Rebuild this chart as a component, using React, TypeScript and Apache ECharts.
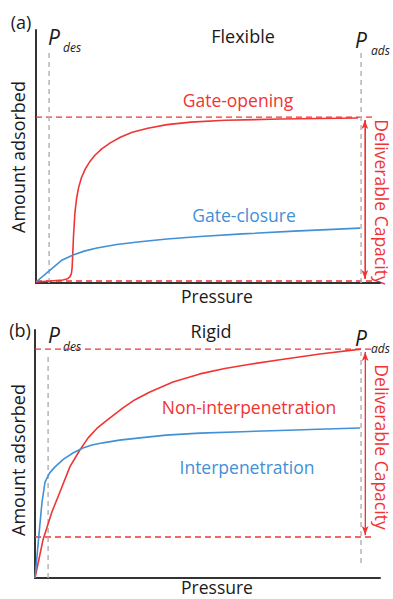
import React, { useEffect, useRef } from 'react';
import * as echarts from 'echarts';

const RED = '#f03434';
const BLUE = '#4290d6';
const GRAY = '#b5b5b5';
const AXIS = '#333333';
const FONT = 'Open Sans';

// Panel (a) – Flexible
const gateOpening: number[][] = [
  [0, 0.4], [4.1, 0.8], [7.8, 1.2], [9.2, 1.7], [9.9, 2.5], [10.3, 3.8], [10.5, 6.0], [10.7, 12.0],
  [10.9, 18.5], [11.3, 27.5], [11.8, 33.5], [12.4, 37.8], [13.2, 41.6], [14.3, 45.0], [15.6, 47.9],
  [17.2, 50.6], [19.2, 53.1], [21.6, 55.4], [24.5, 57.6], [28.0, 59.6], [32.5, 61.2], [38.1, 62.6],
  [45.0, 63.6], [55.0, 64.3], [70.9, 64.8], [93.6, 65.2],
];
const gateClosure: number[][] = [
  [0, 0.4], [4.1, 5.1], [7.6, 9.1], [10.8, 11.1], [14.0, 12.6], [17.7, 13.8], [23.5, 15.2],
  [30.2, 16.3], [38.1, 17.4], [47.7, 18.4], [60.0, 19.4], [75.0, 20.5], [94.2, 21.7],
];
const presA = { des: 3.8, ads: 94.5, desTop: 91.3, adsTop: 91, adsBottom: 0 };
const capA = { top: 65.6, bottom: 0.8, end: 98.5, arrowX: 95.6, arrowTop: 64.4, arrowBottom: 1.6 };

// Panel (b) – Rigid
const nonInterpenetration: number[][] = [
  [0, 0], [2.3, 15.3], [4.9, 26.6], [7.8, 36.7], [10.1, 44.8], [13.0, 51.6], [15.4, 56.5],
  [18.0, 60.4], [20.9, 63.7], [25.5, 68.6], [29.0, 71.9], [33.3, 75.0], [40.0, 79.0], [47.8, 82.3],
  [55.0, 84.5], [62.3, 86.2], [71.0, 88.0], [82.6, 90.3], [94.5, 92.3],
];
const interpenetration: number[][] = [
  [0, 0], [1.0, 15.3], [2.0, 30.2], [2.9, 38.7], [4.2, 42.3], [5.8, 44.8], [8.2, 47.8], [11.0, 50.4],
  [13.9, 52.4], [16.5, 53.6], [19.7, 54.5], [24.5, 55.6], [30.4, 56.5], [38.0, 57.6], [47.8, 58.4],
  [60.0, 59.0], [71.0, 59.5], [82.0, 60.0], [94.2, 60.5],
];
const presB = { des: 3.8, ads: 94.5, desTop: 90.7, adsTop: 91.1, adsBottom: 6.0 };
const capB = { top: 92.3, bottom: 16.5, end: 98.5, arrowX: 95.7, arrowTop: 91.1, arrowBottom: 17.3 };

const panelTags = ['(a)', '(b)'];
const panelTitles = ['Flexible', 'Rigid'];
const curveLabelsA = ['Gate-opening', 'Gate-closure'];
const curveLabelsB = ['Non-interpenetration', 'Interpenetration'];
const yName = 'Amount adsorbed';
const xName = 'Pressure';
const capName = 'Deliverable Capacity';

function curve(data: number[][], color: string, idx: number) {
  return {
    type: 'line', xAxisIndex: idx, yAxisIndex: idx, data, symbol: 'none', smooth: false,
    lineStyle: { color, width: 1.6 }, silent: true, z: 3,
  };
}
function dashed(data: number[][], color: string, idx: number, dash: number[], width = 1.3) {
  return {
    type: 'line', xAxisIndex: idx, yAxisIndex: idx, data, symbol: 'none',
    lineStyle: { color, width, type: dash }, silent: true, z: 2,
  };
}
function arrow(x: number, top: number, bottom: number, idx: number) {
  return {
    type: 'line', xAxisIndex: idx, yAxisIndex: idx, data: [[x, top], [x, bottom]], symbol: 'none',
    lineStyle: { color: RED, width: 1 }, silent: true,
    markLine: {
      silent: true, symbol: ['arrow', 'arrow'], symbolSize: [5, 9], label: { show: false },
      lineStyle: { color: RED, width: 1, type: 'solid' },
      data: [[{ coord: [x, top] }, { coord: [x, bottom] }]],
    },
  };
}
function panelSeries(idx: number, c1: number[][], c2: number[][], pres: any, cap: any) {
  return [
    dashed([[0, cap.top], [cap.end, cap.top]], RED, idx, [6, 4]),
    dashed([[0, cap.bottom], [cap.end, cap.bottom]], RED, idx, [6, 4], 1.5),
    dashed([[pres.des, 0], [pres.des, pres.desTop]], GRAY, idx, [5, 4], 1.5),
    dashed([[pres.ads, pres.adsBottom], [pres.ads, pres.adsTop]], GRAY, idx, [5, 4], 1.5),
    arrow(cap.arrowX, cap.arrowTop, cap.arrowBottom, idx),
    curve(c1, RED, idx),
    curve(c2, BLUE, idx),
  ];
}

function txt(text: string, x: number, y: number, opts: any = {}) {
  return {
    type: 'text', x, y, rotation: opts.rotation || 0, silent: true,
    style: {
      text, fill: opts.color || '#1a1a1a', fontSize: opts.size || 17.5, fontFamily: FONT,
      fontStyle: opts.italic ? 'italic' : 'normal', align: opts.align || 'center', verticalAlign: 'middle',
    },
  };
}

export default function App() {
  const ref = useRef<HTMLDivElement>(null);
  useEffect(() => {
    document.body.style.margin = '0';
    const chart = echarts.init(ref.current!, undefined, { renderer: 'svg' });
    const axisCommon = {
      type: 'value', min: 0, max: 100,
      axisLine: { show: true, onZero: false, lineStyle: { color: AXIS, width: 2 } },
      axisTick: { show: false }, axisLabel: { show: false }, splitLine: { show: false },
    };
    chart.setOption({
      animation: false,
      backgroundColor: '#ffffff',
      grid: [
        { left: 36, top: 30, width: 344, height: 253 },
        { left: 35, top: 330, width: 345, height: 248 },
      ],
      xAxis: [{ ...axisCommon, gridIndex: 0 }, { ...axisCommon, gridIndex: 1 }],
      yAxis: [{ ...axisCommon, gridIndex: 0 }, { ...axisCommon, gridIndex: 1 }],
      series: [
        ...panelSeries(0, gateOpening, gateClosure, presA, capA),
        ...panelSeries(1, nonInterpenetration, interpenetration, presB, capB),
      ],
      graphic: [
        txt(panelTags[0], 21, 22, { size: 18 }),
        txt(panelTags[1], 20, 330, { size: 18 }),
        txt(panelTitles[0], 243, 36, { size: 18 }),
        txt(panelTitles[1], 211, 331, { size: 18 }),
        txt('P', 48, 37, { size: 21, italic: true, align: 'left' }),
        txt('des', 63, 47, { size: 12, italic: true, align: 'left' }),
        txt('P', 355, 40, { size: 21, italic: true, align: 'left' }),
        txt('ads', 371, 50, { size: 12, italic: true, align: 'left' }),
        txt('P', 48, 335, { size: 21, italic: true, align: 'left' }),
        txt('des', 63, 346, { size: 12, italic: true, align: 'left' }),
        txt('P', 355, 338, { size: 21, italic: true, align: 'left' }),
        txt('ads', 371, 348, { size: 12, italic: true, align: 'left' }),
        txt(curveLabelsA[0], 238, 100, { color: RED }),
        txt(curveLabelsA[1], 244, 215, { color: BLUE }),
        txt(curveLabelsB[0], 249, 407, { color: RED }),
        txt(curveLabelsB[1], 247, 467, { color: BLUE }),
        txt(yName, 18, 157, { rotation: Math.PI / 2, size: 18 }),
        txt(yName, 18, 460, { rotation: Math.PI / 2, size: 18 }),
        txt(xName, 217, 296),
        txt(xName, 217, 587),
        txt(capName, 382, 202, { color: RED, rotation: -Math.PI / 2 }),
        txt(capName, 382, 447, { color: RED, rotation: -Math.PI / 2 }),
      ],
    });
    return () => chart.dispose();
  }, []);
  return <div ref={ref} style={{ width: 393, height: 599 }} />;
}
